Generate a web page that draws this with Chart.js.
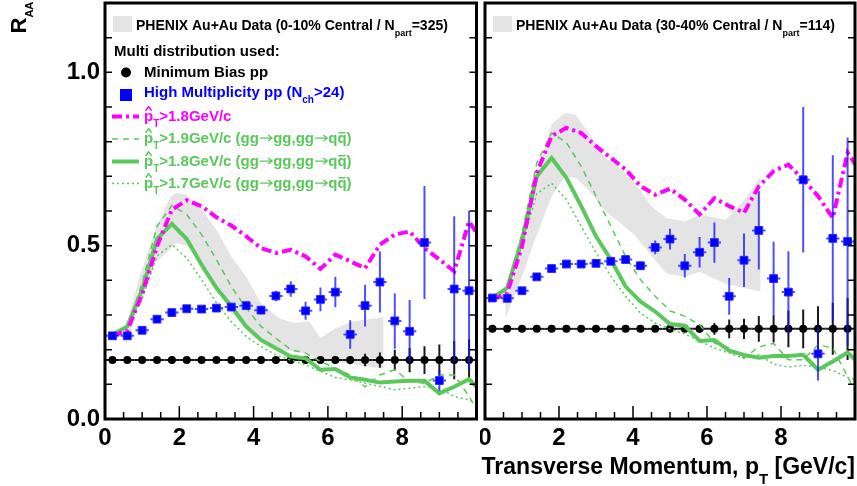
<!DOCTYPE html>
<html>
<head>
<meta charset="utf-8">
<script src="https://cdn.jsdelivr.net/npm/chart.js@4.4.1/dist/chart.umd.min.js"></script>
<style>
  html, body { margin: 0; padding: 0; background: #fff; }
  #wrap { position: relative; width: 857px; height: 486px; }
  canvas { position: absolute; top: 0; }
  #left { left: 0; }
  #right { left: 480px; }
</style>
</head>
<body>
<div id="wrap">
  <canvas id="left" width="480" height="486"></canvas>
  <canvas id="right" width="377" height="486"></canvas>
</div>
<script>
// -------------------- DATA --------------------

// bin centres of the pp points, and the model curves (one extra point past the edge)
const binX = [0.2, 0.6, 1.0, 1.4, 1.8, 2.2, 2.6, 3.0, 3.4, 3.8, 4.2, 4.6, 5.0, 5.4, 5.8, 6.2, 6.6, 7.0, 7.4, 7.8, 8.2, 8.6, 9.0, 9.4, 9.8];
const lineX = [0.2, 0.6, 1.0, 1.4, 1.8, 2.2, 2.6, 3.0, 3.4, 3.8, 4.2, 4.6, 5.0, 5.4, 5.8, 6.2, 6.6, 7.0, 7.4, 7.8, 8.2, 8.6, 9.0, 9.4, 9.8, 10.2];

// ---- left panel: 0-10% central ----
const bandLeftX  = [0.55, 0.9, 1.35, 1.75, 1.9, 2.2, 2.6, 3.0, 3.4, 3.8, 4.2, 4.7, 5.1, 5.5, 5.8, 6.2, 6.7, 7.0, 7.5];
const bandLeftHi = [0.26, 0.40, 0.546, 0.638, 0.652, 0.647, 0.604, 0.546, 0.469, 0.41, 0.334, 0.29, 0.277, 0.282, 0.233, 0.262, 0.282, 0.286, 0.294];
const bandLeftLo = [0.21, 0.324, 0.45, 0.49, 0.507, 0.5, 0.45, 0.373, 0.306, 0.257, 0.22, 0.2, 0.195, 0.185, 0.172, 0.165, 0.158, 0.152, 0.146];

const minBiasLeft    = [0.17, 0.17, 0.17, 0.17, 0.17, 0.17, 0.17, 0.17, 0.17, 0.17, 0.17, 0.17, 0.17, 0.17, 0.17, 0.17, 0.17, 0.17, 0.17, 0.17, 0.17, 0.17, 0.17, 0.17, 0.17];
const minBiasErrLeft = [0, 0, 0, 0, 0, 0, 0, 0, 0, 0, 0, 0, 0, 0, 0.004, 0.008, 0.012, 0.018, 0.022, 0.03, 0.035, 0.04, 0.045, 0.055, 0.06];
const highMultLeft    = [0.24, 0.24, 0.256, 0.288, 0.307, 0.318, 0.317, 0.32, 0.323, 0.327, 0.314, 0.355, 0.375, 0.312, 0.345, 0.366, 0.244, 0.327, 0.395, 0.283, 0.253, 0.509, 0.111, 0.375, 0.37];
const highMultErrLeft = [0.005, 0.005, 0.006, 0.007, 0.008, 0.008, 0.008, 0.009, 0.01, 0.011, 0.012, 0.015, 0.022, 0.026, 0.034, 0.044, 0.041, 0.06, 0.088, 0.08, 0.09, 0.163, 0.03, 0.21, 0.23];

const pt18Left   = [0.24, 0.255, 0.36, 0.498, 0.604, 0.631, 0.614, 0.582, 0.558, 0.527, 0.493, 0.479, 0.488, 0.469, 0.433, 0.474, 0.455, 0.435, 0.503, 0.532, 0.541, 0.493, 0.46, 0.426, 0.57, 0.505];
const gg19Left   = [0.24, 0.265, 0.392, 0.556, 0.616, 0.59, 0.532, 0.46, 0.382, 0.32, 0.267, 0.233, 0.2, 0.19, 0.166, 0.147, 0.127, 0.093, 0.127, 0.142, 0.108, 0.103, 0.127, 0.127, 0.065, -0.01];
const gg18Left   = [0.243, 0.267, 0.373, 0.519, 0.563, 0.519, 0.445, 0.378, 0.325, 0.267, 0.228, 0.204, 0.18, 0.175, 0.142, 0.144, 0.12, 0.113, 0.105, 0.108, 0.11, 0.11, 0.074, 0.093, 0.115, 0.07];
const gg17Left   = [0.24, 0.265, 0.346, 0.47, 0.503, 0.464, 0.402, 0.335, 0.281, 0.238, 0.209, 0.185, 0.17, 0.156, 0.137, 0.12, 0.113, 0.103, 0.094, 0.084, 0.089, 0.094, 0.089, 0.065, 0.055, 0.036];

// ---- right panel: 30-40% central ----
const bandRightX  = [0.55, 0.9, 1.35, 1.8, 2.16, 2.45, 2.8, 3.25, 3.6, 4.05, 4.5, 4.9, 5.4, 5.8, 6.5, 7.0, 7.45];
const bandRightHi = [0.33, 0.469, 0.681, 0.85, 0.883, 0.878, 0.826, 0.753, 0.729, 0.681, 0.614, 0.58, 0.57, 0.59, 0.575, 0.63, 0.70];
const bandRightLo = [0.29, 0.383, 0.517, 0.642, 0.70, 0.695, 0.66, 0.60, 0.57, 0.53, 0.47, 0.42, 0.41, 0.425, 0.39, 0.378, 0.368];

const minBiasRight    = [0.26, 0.26, 0.26, 0.26, 0.26, 0.26, 0.26, 0.26, 0.26, 0.26, 0.26, 0.26, 0.26, 0.26, 0.26, 0.26, 0.26, 0.26, 0.26, 0.26, 0.26, 0.26, 0.26, 0.26, 0.26];
const minBiasErrRight = [0, 0, 0, 0, 0, 0, 0, 0, 0, 0, 0, 0, 0, 0.006, 0.012, 0.017, 0.027, 0.029, 0.037, 0.039, 0.053, 0.056, 0.065, 0.075, 0.09];
const highMultRight    = [0.349, 0.348, 0.37, 0.41, 0.434, 0.447, 0.447, 0.449, 0.455, 0.46, 0.442, 0.495, 0.519, 0.442, 0.481, 0.509, 0.354, 0.458, 0.544, 0.405, 0.366, 0.69, 0.188, 0.521, 0.512];
const highMultErrRight = [0.005, 0.005, 0.006, 0.007, 0.008, 0.008, 0.008, 0.009, 0.01, 0.011, 0.012, 0.02, 0.03, 0.034, 0.044, 0.058, 0.053, 0.077, 0.113, 0.106, 0.118, 0.21, 0.077, 0.24, 0.3];

const pt18Right  = [0.344, 0.363, 0.498, 0.71, 0.816, 0.84, 0.825, 0.787, 0.753, 0.72, 0.672, 0.647, 0.664, 0.633, 0.59, 0.637, 0.614, 0.595, 0.671, 0.715, 0.734, 0.691, 0.643, 0.58, 0.768, 0.705];
const gg19Right  = [0.349, 0.378, 0.536, 0.739, 0.825, 0.797, 0.729, 0.643, 0.556, 0.469, 0.402, 0.354, 0.312, 0.296, 0.272, 0.219, 0.205, 0.176, 0.208, 0.218, 0.171, 0.171, 0.214, 0.205, 0.122, 0.04];
const gg18Right  = [0.349, 0.378, 0.517, 0.7, 0.753, 0.696, 0.614, 0.527, 0.46, 0.382, 0.339, 0.31, 0.274, 0.269, 0.225, 0.228, 0.197, 0.185, 0.177, 0.182, 0.182, 0.185, 0.142, 0.166, 0.192, 0.15];
const gg17Right  = [0.349, 0.378, 0.5, 0.65, 0.68, 0.633, 0.556, 0.48, 0.412, 0.354, 0.306, 0.277, 0.26, 0.245, 0.225, 0.205, 0.19, 0.175, 0.185, 0.158, 0.15, 0.155, 0.15, 0.14, 0.12, 0.11];

// colours
const GREEN = "#5ac85a";
const MAGENTA = "#ff00ff";
const BLUE = "#0000ff";
const BAND = "#e4e4e4";
const FONT = '"Liberation Sans", Arial, sans-serif';

// zip x and y arrays into points
function pts(xs, ys) {
  return xs.map((x, i) => ({ x: x, y: ys[i] }));
}

// -------------------- TEXT HELPER --------------------

// draw text made of parts: ["text", ""] normal, "sub" subscript, "hat" with ^ on top,
// "bar" with overline, "arrow" a drawn right arrow
function rich(ctx, x, y, parts, size, color, measureOnly) {
  ctx.fillStyle = color;
  ctx.strokeStyle = color;
  ctx.textAlign = "left";
  ctx.textBaseline = "alphabetic";
  for (const [t, k] of parts) {
    if (k === "sub") {
      ctx.font = `bold ${Math.round(size * 0.65)}px ${FONT}`;
      if (!measureOnly) ctx.fillText(t, x, y + size * 0.42);
      x += ctx.measureText(t).width;
      continue;
    }
    if (k === "arrow") {
      const w = size * 0.95;
      if (!measureOnly) {
        const ay = y - size * 0.33;
        ctx.lineWidth = 1.3;
        ctx.beginPath();
        ctx.moveTo(x + 1, ay);
        ctx.lineTo(x + w - 1, ay);
        ctx.moveTo(x + w - 5, ay - 3);
        ctx.lineTo(x + w - 1, ay);
        ctx.lineTo(x + w - 5, ay + 3);
        ctx.stroke();
      }
      x += w;
      continue;
    }
    ctx.font = `bold ${size}px ${FONT}`;
    const w = ctx.measureText(t).width;
    if (!measureOnly) {
      ctx.fillText(t, x, y);
      const top = y - size * 0.55 - 2;
      if (k === "hat") {
        ctx.lineWidth = 1.4;
        ctx.beginPath();
        ctx.moveTo(x + w / 2 - 3, top);
        ctx.lineTo(x + w / 2, top - 4);
        ctx.lineTo(x + w / 2 + 3, top);
        ctx.stroke();
      }
      if (k === "bar") {
        ctx.lineWidth = 1.4;
        ctx.beginPath();
        ctx.moveTo(x + 1, top);
        ctx.lineTo(x + w - 1, top);
        ctx.stroke();
      }
    }
    x += w;
  }
  return x;
}

function legendLine(ctx, y, color, width, dash) {
  ctx.save();
  ctx.strokeStyle = color;
  ctx.lineWidth = width;
  ctx.setLineDash(dash);
  ctx.beginPath();
  ctx.moveTo(112, y);
  ctx.lineTo(139, y);
  ctx.stroke();
  ctx.restore();
}

// label of one gluon-only curve
function ggLabel(cut) {
  return [["p", "hat"], ["T", "sub"], [">" + cut + "GeV/c (gg", ""], ["", "arrow"], ["gg,gg", ""], ["", "arrow"], ["q", ""], ["q", "bar"], [")", ""]];
}

// -------------------- ROOT STYLE PLUGIN --------------------

const rootStyle = {
  id: "rootStyle",
  // error bars under each marker dataset
  beforeDatasetDraw(chart, args) {
    const ds = chart.data.datasets[args.index];
    if (!ds.errY) return;
    const xs = chart.scales.x, ys = chart.scales.y, a = chart.chartArea, ctx = chart.ctx;
    ctx.save();
    ctx.beginPath();
    ctx.rect(a.left, a.top, a.right - a.left, a.bottom - a.top);
    ctx.clip();
    ctx.strokeStyle = ds.errColor;
    ctx.lineWidth = ds.errWidth;
    ds.data.forEach((p, i) => {
      const px = xs.getPixelForValue(p.x), py = ys.getPixelForValue(p.y);
      ctx.beginPath();
      ctx.moveTo(xs.getPixelForValue(p.x - ds.errX), py);
      ctx.lineTo(xs.getPixelForValue(p.x + ds.errX), py);
      if (ds.errY[i] > 0) {
        ctx.moveTo(px, ys.getPixelForValue(p.y - ds.errY[i]));
        ctx.lineTo(px, ys.getPixelForValue(p.y + ds.errY[i]));
      }
      ctx.stroke();
    });
    ctx.restore();
  },
  // inward tick marks, frame, legend and axis titles
  afterDraw(chart, args, opts) {
    const xs = chart.scales.x, ys = chart.scales.y, a = chart.chartArea, ctx = chart.ctx;
    ctx.save();
    ctx.strokeStyle = "#000";
    ctx.lineWidth = 1.5;
    ctx.beginPath();
    for (let k = 0; k <= 12; k++) {
      const y = ys.getPixelForValue(k / 10);
      ctx.moveTo(a.left, y); ctx.lineTo(a.left + 7, y);
      ctx.moveTo(a.right, y); ctx.lineTo(a.right - 7, y);
    }
    for (let k = 0; k <= 20; k++) {
      const x = xs.getPixelForValue(k / 2);
      const len = k % 4 === 0 ? 13 : 7;
      ctx.moveTo(x, a.bottom); ctx.lineTo(x, a.bottom - len);
    }
    ctx.stroke();
    ctx.lineWidth = 3;
    ctx.strokeRect(a.left, a.top, a.right - a.left, a.bottom - a.top);

    const left = opts.side === "left";
    const bx = left ? 113 : 13;
    // band legend entry
    ctx.fillStyle = BAND;
    ctx.fillRect(bx, 16, 19, 16);
    rich(ctx, bx + 23, 30, [
      [left ? "PHENIX Au+Au Data (0-10% Central / N" : "PHENIX Au+Au Data (30-40% Central / N", ""],
      ["part", "sub"],
      [left ? "=325)" : "=114)", ""],
    ], 14, "#000");

    if (left) {
      rich(ctx, 114, 56, [["Multi distribution used:", ""]], 15, "#000");
      // minimum bias marker
      ctx.fillStyle = "#000";
      ctx.beginPath();
      ctx.arc(126, 72.5, 5, 0, Math.PI * 2);
      ctx.fill();
      rich(ctx, 144, 77, [["Minimum Bias pp", ""]], 15, "#000");
      // high multiplicity marker
      ctx.fillStyle = BLUE;
      ctx.fillRect(120, 89, 12, 12);
      rich(ctx, 144, 97, [["High Multiplicity pp (N", ""], ["ch", "sub"], [">24)", ""]], 15, BLUE);
      // model curves
      legendLine(ctx, 116.5, MAGENTA, 4, [10, 4, 3, 4]);
      rich(ctx, 144, 121, [["p", "hat"], ["T", "sub"], [">1.8GeV/c", ""]], 15, MAGENTA);
      legendLine(ctx, 139, GREEN, 1.5, [6, 5]);
      rich(ctx, 144, 143, ggLabel("1.9"), 15, GREEN);
      legendLine(ctx, 161.5, GREEN, 4, []);
      rich(ctx, 144, 166, ggLabel("1.8"), 15, GREEN);
      legendLine(ctx, 183.5, GREEN, 1.5, [2, 3]);
      rich(ctx, 144, 188, ggLabel("1.7"), 15, GREEN);

      // y axis title, rotated
      ctx.save();
      ctx.translate(26, 33.5);
      ctx.rotate(-Math.PI / 2);
      ctx.fillStyle = "#000";
      ctx.font = `bold 22px ${FONT}`;
      ctx.fillText("R", 0, 0);
      const rw = ctx.measureText("R").width;
      ctx.font = `bold 11px ${FONT}`;
      ctx.fillText("AA", rw, 7);
      ctx.restore();
    } else {
      // x axis title, right aligned to the frame
      const parts = [["Transverse Momentum, p", ""], ["T", "sub"], [" [GeV/c]", ""]];
      const w = rich(ctx, 0, 0, parts, 23, "#000", true);
      rich(ctx, a.right - w, 474, parts, 23, "#000");
    }
    ctx.restore();
  },
};

// -------------------- BUILD ONE PANEL --------------------

function makePanel(canvasId, side, d) {
  const left = side === "left";
  const tickFont = { family: FONT, size: 24, weight: "bold" };
  return new Chart(document.getElementById(canvasId), {
    type: "line",
    data: {
      datasets: [
        // data band (upper edge filled down to lower edge)
        { data: pts(d.bandX, d.bandHi), fill: "+1", backgroundColor: BAND, borderWidth: 0, pointRadius: 0, order: 10, clip: 0 },
        { data: pts(d.bandX, d.bandLo), fill: false, borderWidth: 0, pointRadius: 0, order: 10, clip: 0 },
        // minimum bias pp
        {
          data: pts(binX, d.minBias), showLine: false, pointStyle: "circle", pointRadius: 4,
          pointBackgroundColor: "#000", pointBorderColor: "#000", pointBorderWidth: 0, order: 8,
          errY: d.minBiasErr, errX: 0.2, errColor: "#1a1a1a", errWidth: 2,
        },
        // model curves
        { data: pts(lineX, d.gg17), borderColor: GREEN, borderWidth: 1.5, borderDash: [2, 3], pointRadius: 0, fill: false, order: 5, clip: 0 },
        { data: pts(lineX, d.gg19), borderColor: GREEN, borderWidth: 1.5, borderDash: [6, 5], pointRadius: 0, fill: false, order: 5, clip: 0 },
        { data: pts(lineX, d.gg18), borderColor: GREEN, borderWidth: 4, pointRadius: 0, fill: false, order: 5, clip: 0 },
        { data: pts(lineX, d.pt18), borderColor: MAGENTA, borderWidth: 4, borderDash: [10, 4, 3, 4], pointRadius: 0, fill: false, order: 4, clip: 0 },
        // high multiplicity pp
        {
          data: pts(binX, d.highMult), showLine: false, pointStyle: "rect", pointRadius: 5.5,
          pointBackgroundColor: BLUE, pointBorderColor: "#2a2aff", pointBorderWidth: 1, order: 2,
          errY: d.highMultErr, errX: 0.18, errColor: "rgba(20,20,255,0.75)", errWidth: 2,
        },
      ],
    },
    options: {
      responsive: false,
      animation: false,
      devicePixelRatio: 1,
      layout: { autoPadding: false, padding: { left: 0, top: 3, right: left ? 3.5 : 2, bottom: 0 } },
      elements: { line: { tension: 0 } },
      plugins: {
        legend: { display: false },
        tooltip: { enabled: false },
        rootStyle: { side: side },
      },
      scales: {
        x: {
          type: "linear",
          min: 0,
          max: 10,
          grid: { display: false, drawTicks: false },
          border: { display: false },
          ticks: {
            stepSize: 2,
            autoSkip: false,
            maxRotation: 0,
            padding: 5,
            color: "#000",
            font: tickFont,
            callback: (v) => (v < 10 ? String(v) : ""),
          },
          // fixed height, no room reserved for half labels at the ends
          afterFit: (s) => { s.height = 67; s.paddingLeft = 0; s.paddingRight = 0; },
        },
        y: {
          type: "linear",
          min: 0,
          max: 1.2,
          grid: { display: false, drawTicks: false },
          border: { display: false },
          ticks: {
            display: left,
            stepSize: 0.5,
            padding: 5,
            color: "#000",
            font: tickFont,
            callback: (v) => (Math.abs(v * 2 - Math.round(v * 2)) < 1e-6 ? v.toFixed(1) : ""),
          },
          afterFit: (s) => { s.width = left ? 105 : 5; s.paddingTop = 0; s.paddingBottom = 0; },
        },
      },
    },
    plugins: [rootStyle],
  });
}

makePanel("left", "left", {
  bandX: bandLeftX, bandHi: bandLeftHi, bandLo: bandLeftLo,
  minBias: minBiasLeft, minBiasErr: minBiasErrLeft,
  highMult: highMultLeft, highMultErr: highMultErrLeft,
  pt18: pt18Left, gg19: gg19Left, gg18: gg18Left, gg17: gg17Left,
});

makePanel("right", "right", {
  bandX: bandRightX, bandHi: bandRightHi, bandLo: bandRightLo,
  minBias: minBiasRight, minBiasErr: minBiasErrRight,
  highMult: highMultRight, highMultErr: highMultErrRight,
  pt18: pt18Right, gg19: gg19Right, gg18: gg18Right, gg17: gg17Right,
});
</script>
</body>
</html>
